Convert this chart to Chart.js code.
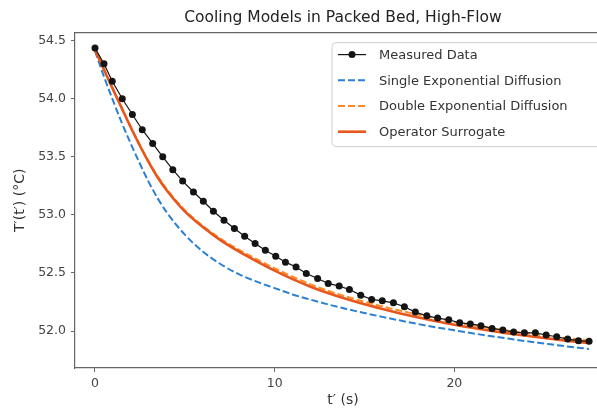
<!DOCTYPE html>
<html>
<head>
<meta charset="utf-8">
<script src="https://cdn.jsdelivr.net/npm/chart.js@4"></script>
<style>
  html, body { margin: 0; padding: 0; background: #fff; overflow: hidden; }
  #wrap { width: 597px; height: 411px; overflow: hidden; }
</style>
</head>
<body>
<div id="wrap"><canvas id="coolChart" width="686" height="411"></canvas></div>
<script>
// measured samples (s, degC)
var measuredT = [0, 0.50, 0.96, 1.52, 2.08, 2.63, 3.21, 3.77, 4.33, 4.88, 5.48, 6.03, 6.59, 7.18,
    7.76, 8.33, 8.91, 9.48, 10.06, 10.60, 11.19, 11.76, 12.39, 12.98, 13.59, 14.16, 14.79, 15.40,
    15.99, 16.61, 17.22, 17.83, 18.47, 19.07, 19.69, 20.30, 20.89, 21.48, 22.10, 22.70, 23.30,
    23.90, 24.51, 25.11, 25.70, 26.31, 26.91, 27.50];
var measuredTemp = [54.437, 54.30, 54.15, 54.00, 53.864, 53.733, 53.615, 53.50, 53.389, 53.291,
    53.197, 53.117, 53.031, 52.954, 52.882, 52.816, 52.753, 52.696, 52.644, 52.593, 52.552,
    52.496, 52.453, 52.410, 52.387, 52.358, 52.309, 52.272, 52.260, 52.243, 52.209, 52.163,
    52.131, 52.112, 52.097, 52.071, 52.061, 52.046, 52.023, 52.009, 51.991, 51.985, 51.985,
    51.966, 51.951, 51.931, 51.917, 51.912];

// model curves
var modelT = [0, 0.5, 1, 1.5, 2, 2.5, 3, 3.5, 4, 5, 6, 7, 8, 9, 10, 11, 12, 13, 14, 15, 16, 17,
    18, 19, 20, 21, 22, 23, 24, 25, 26, 27, 27.5];
var singleExp = [54.41, 54.19, 53.985, 53.79, 53.61, 53.44, 53.28, 53.14, 53.02, 52.83, 52.685,
    52.575, 52.49, 52.425, 52.37, 52.315, 52.27, 52.228, 52.19, 52.155, 52.122, 52.09, 52.06,
    52.032, 52.006, 51.981, 51.957, 51.935, 51.913, 51.893, 51.873, 51.855, 51.846];
var doubleExp = [54.42, 54.255, 54.085, 53.92, 53.755, 53.60, 53.457, 53.33, 53.22, 53.04, 52.905,
    52.793, 52.70, 52.618, 52.54, 52.468, 52.402, 52.345, 52.296, 52.252, 52.212, 52.175, 52.14,
    52.108, 52.078, 52.05, 52.025, 52.002, 51.981, 51.961, 51.943, 51.926, 51.918];
var operatorSurrogate = [54.42, 54.25, 54.08, 53.915, 53.75, 53.595, 53.45, 53.32, 53.21, 53.03,
    52.895, 52.78, 52.685, 52.60, 52.52, 52.447, 52.382, 52.325, 52.275, 52.23, 52.19, 52.152,
    52.117, 52.085, 52.055, 52.028, 52.003, 51.98, 51.96, 51.94, 51.922, 51.905, 51.897];

var xTicks = [0, 10, 20];
var yTicks = [52.0, 52.5, 53.0, 53.5, 54.0, 54.5];

var FONT = '"DejaVu Sans", sans-serif';

function pairs(xs, ys) {
    return xs.map(function (x, i) { return { x: x, y: ys[i] }; });
}

// top/right spines
var frame = {
    id: 'frame',
    afterDatasetsDraw: function (chart) {
        var a = chart.chartArea, c = chart.ctx;
        c.save();
        c.strokeStyle = '#666';
        c.lineWidth = 1.2;
        c.beginPath();
        c.moveTo(a.left, a.top);
        c.lineTo(a.right, a.top);
        c.lineTo(a.right, a.bottom);
        c.stroke();
        c.restore();
    }
};

// matplotlib style legend in upper right of the axes
var legendBox = {
    id: 'legendBox',
    afterDraw: function (chart) {
        var a = chart.chartArea, c = chart.ctx;
        var w = 269, h = 104;
        var right = a.right - 10, top = a.top + 10, left = right - w;
        c.save();
        c.beginPath();
        c.roundRect(left, top, w, h, 4);
        c.fillStyle = 'rgba(255,255,255,0.85)';
        c.fill();
        c.strokeStyle = '#d2d2d2';
        c.lineWidth = 1;
        c.stroke();
        c.font = '13px ' + FONT;
        c.textBaseline = 'middle';
        chart.data.datasets.forEach(function (ds, i) {
            var y = top + 12 + i * 25.7;
            c.strokeStyle = ds.borderColor;
            c.lineWidth = ds.borderWidth;
            c.setLineDash(ds.borderDash || []);
            c.beginPath();
            c.moveTo(left + 6, y);
            c.lineTo(left + 34, y);
            c.stroke();
            c.setLineDash([]);
            if (ds.pointRadius > 0) {
                c.fillStyle = ds.backgroundColor;
                c.beginPath();
                c.arc(left + 20, y, ds.pointRadius, 0, Math.PI * 2);
                c.fill();
            }
            c.fillStyle = '#333';
            c.fillText(ds.label, left + 47, y + 1);
        });
        c.restore();
    }
};

var ctx = document.getElementById('coolChart').getContext('2d');
window.coolChart = new Chart(ctx, {
    type: 'line',
    data: {
        datasets: [{
            label: 'Measured Data',
            data: pairs(measuredT, measuredTemp),
            borderColor: '#141414',
            backgroundColor: '#141414',
            borderWidth: 1.2,
            pointRadius: 3.5,
            pointBorderWidth: 0,
            pointHoverRadius: 3.5,
            order: 0
        }, {
            label: 'Single Exponential Diffusion',
            data: pairs(modelT, singleExp),
            borderColor: '#2b80d2',
            borderWidth: 2,
            borderDash: [7, 3],
            pointRadius: 0,
            cubicInterpolationMode: 'monotone',
            order: 3
        }, {
            label: 'Double Exponential Diffusion',
            data: pairs(modelT, doubleExp),
            borderColor: '#ff8a1f',
            borderWidth: 2,
            borderDash: [7, 3],
            pointRadius: 0,
            cubicInterpolationMode: 'monotone',
            order: 2
        }, {
            label: 'Operator Surrogate',
            data: pairs(modelT, operatorSurrogate),
            borderColor: '#e8561c',
            borderWidth: 2.6,
            pointRadius: 0,
            cubicInterpolationMode: 'monotone',
            order: 1
        }]
    },
    options: {
        responsive: false,
        animation: false,
        layout: { padding: 0 },
        plugins: {
            legend: { display: false },
            tooltip: { enabled: false },
            title: {
                display: true,
                text: 'Cooling Models in Packed Bed, High-Flow',
                color: '#222',
                font: { family: FONT, size: 15.5, weight: 'normal' },
                padding: { top: 9, bottom: 5 }
            }
        },
        scales: {
            x: {
                type: 'linear',
                min: -1.113,
                max: 28.72,
                afterFit: function (s) { s.height = 43; },
                afterBuildTicks: function (s) {
                    s.ticks = xTicks.map(function (v) { return { value: v }; });
                },
                ticks: {
                    color: '#444',
                    padding: 4,
                    font: { family: FONT, size: 12.5 }
                },
                grid: { drawOnChartArea: false, tickLength: 4, color: '#666' },
                border: { display: true, color: '#666', width: 1.2 },
                title: {
                    display: true,
                    text: 't′ (s)',
                    color: '#333',
                    font: { family: FONT, size: 14 },
                    padding: { top: 0, bottom: 2 }
                }
            },
            y: {
                min: 51.682,
                max: 54.569,
                afterFit: function (s) { s.width = 75; },
                afterBuildTicks: function (s) {
                    s.ticks = yTicks.map(function (v) { return { value: v }; });
                },
                ticks: {
                    color: '#444',
                    padding: 5,
                    font: { family: FONT, size: 12.5 },
                    callback: function (v) { return v.toFixed(1); }
                },
                grid: { drawOnChartArea: false, tickLength: 4, color: '#666' },
                border: { display: true, color: '#666', width: 1.2 },
                title: {
                    display: true,
                    text: 'T′(t′) (°C)',
                    color: '#333',
                    font: { family: FONT, size: 14 },
                    padding: { top: 12, bottom: 0 }
                }
            },
            // empty right margin so the figure title stays centred on the axes
            yRight: {
                position: 'right',
                display: true,
                afterFit: function (s) { s.width = 75; },
                ticks: { display: false },
                grid: { display: false, drawTicks: false },
                border: { display: false }
            }
        }
    },
    plugins: [frame, legendBox]
});
</script>
</body>
</html>
